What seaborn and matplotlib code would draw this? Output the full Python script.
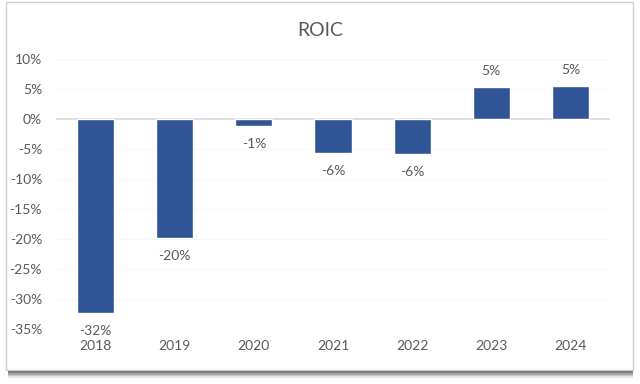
import seaborn as sns
import matplotlib.pyplot as plt
import matplotlib.patches as mpatches
import pandas as pd

years = ["2018", "2019", "2020", "2021", "2022", "2023", "2024"]
roic = [-32.4, -19.9, -1.2, -5.7, -5.9, 5.3, 5.5]
labels = ["-32%", "-20%", "-1%", "-6%", "-6%", "5%", "5%"]
yticks = [10, 5, 0, -5, -10, -15, -20, -25, -30, -35]

bar_color = "#2F5597"
text_color = "#595959"

sns.set_theme(style="white")
plt.rcParams["font.family"] = ["Lato", "DejaVu Sans"]

df = pd.DataFrame({"Year": years, "ROIC": roic})

fig = plt.figure(figsize=(6.4, 3.84), dpi=100)
ax = fig.add_axes([56 / 640, 1 - 329 / 384, 554 / 640, 270 / 384])
ax.set_zorder(5)

# outer frame with a soft shadow at the bottom
for i, a in enumerate([0.12, 0.18, 0.24, 0.30, 0.38]):
    off = (5 - i) * 1.6
    fig.patches.append(mpatches.Rectangle(
        (8 / 640, (14 - off) / 384), 625 / 640, 10 / 384,
        transform=fig.transFigure, facecolor="#3a3a3a", edgecolor="none",
        alpha=a, zorder=0))
fig.patches.append(mpatches.Rectangle(
    (6 / 640, 14 / 384), 627 / 640, 368 / 384,
    transform=fig.transFigure, facecolor="white", edgecolor="#d0d0d0",
    linewidth=1.0, zorder=1))

sns.barplot(data=df, x="Year", y="ROIC", color=bar_color, width=0.47,
            saturation=1, ax=ax, zorder=3)

ax.set_ylim(-35, 10)
ax.set_xlim(-0.5, 6.5)
ax.set_yticks(yticks)
ax.set_yticklabels([f"{t}%" for t in yticks])
ax.axhline(0, color="#d9d9d9", linewidth=1.2, zorder=2)
for t in yticks:
    if t != 0:
        ax.axhline(t, color="#f8f8f8", linewidth=0.8, zorder=1)

for i, (v, lab) in enumerate(zip(roic, labels)):
    off = 11.5 if v > 0 else -13
    ax.annotate(lab, (i, v), xytext=(0, off), textcoords="offset points",
                ha="center", va="center", fontsize=10, color=text_color)

for s in ax.spines.values():
    s.set_visible(False)
ax.patch.set_alpha(0)
ax.set_xlabel("")
ax.set_ylabel("")
ax.tick_params(axis="y", length=0, pad=10, labelsize=10, labelcolor=text_color)
ax.tick_params(axis="x", length=0, pad=8, labelsize=10, labelcolor=text_color)

fig.text(0.5, 1 - 30 / 384, "ROIC", ha="center", va="center",
         fontsize=14, color=text_color, zorder=6)

fig.savefig("out.png", dpi=100)
